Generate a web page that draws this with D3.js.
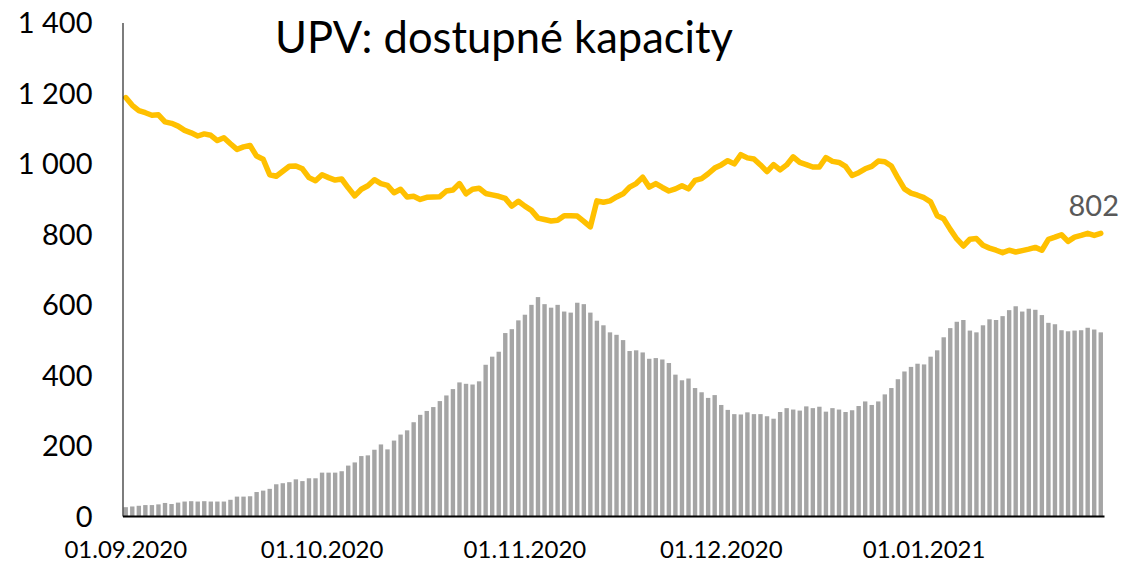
<!DOCTYPE html>
<html>
<head>
<meta charset="utf-8">
<script src="https://cdn.jsdelivr.net/npm/d3@7"></script>
<style>
  html, body { margin: 0; padding: 0; background: #ffffff; }
  svg { display: block; }
</style>
</head>
<body>
<svg id="chart" width="1123" height="562"></svg>
<script>
// ---- data ----
const dayCount = 150;
const categories = d3.timeDay.range(new Date(2020, 8, 1), new Date(2020, 8, 1 + dayCount));

const barValues = [
  25,27,29,31,31,33,37,34,38,41,42,41,42,41,41,41,46,55,55,56,68,72,77,90,93,96,104,99,107,107,123,123,123,127,143,152,170,172,188,203,189,214,231,243,
  266,287,298,309,326,342,360,379,375,373,382,429,452,466,519,530,555,571,599,621,601,591,599,580,577,605,601,577,554,541,521,514,499,468,470,464,446,448,444,434,401,385,390,363,351,
  335,343,315,301,289,288,294,289,289,283,276,295,306,302,299,311,306,310,296,306,302,295,300,312,325,315,325,345,363,388,410,423,432,430,452,470,507,533,551,556,526,521,541,558,556,567,584,595,580,588,585,570,548,544,527,524,526,527,534,529,521
];

const lineValues = [
  1187,1165,1150,1144,1137,1138,1118,1114,1106,1094,1087,1078,1084,1080,1065,1073,1056,1040,1047,1051,1021,1012,968,964,978,992,993,985,960,951,968,960,953,956,931,908,927,937,954,943,938,917,927,905,
  907,898,904,905,906,922,925,943,914,927,930,915,911,907,901,879,893,879,867,845,841,837,839,852,852,851,836,820,894,890,894,905,914,933,943,961,933,943,932,922,928,937,928,952,
  957,971,987,996,1008,999,1025,1016,1013,996,977,997,982,996,1019,1003,997,990,990,1017,1006,1003,992,966,974,985,992,1007,1005,993,959,
  928,916,910,903,891,852,843,813,786,766,785,787,768,760,754,747,754,749,753,757,762,754,785,791,798,779,791,796,802,796,802
];

const xTickLabels = ["01.09.2020", "01.10.2020", "01.11.2020", "01.12.2020", "01.01.2021"];
const yTicks = [0, 200, 400, 600, 800, 1000, 1200, 1400];
const titleText = "UPV: dostupné kapacity";
const lastLabel = "802";

// ---- layout ----
const svg = d3.select("#chart");
const plotLeft = 122.5, plotRight = 1104, plotTop = 22.5, plotBottom = 516;
const fontFamily = "Lato, 'Open Sans', sans-serif";

const x = d3.scaleBand()
  .domain(d3.range(dayCount))
  .range([plotLeft, plotRight])
  .paddingInner(0.33)
  .paddingOuter(0.16);

const y = d3.scaleLinear().domain([0, 1400]).range([plotBottom, plotTop]);

const fmtDay = d3.timeFormat("%d.%m.%Y");
const locale = d3.formatLocale({ decimal: ",", thousands: "\u00a0", grouping: [3], currency: ["", " Kč"] });
const fmtY = locale.format(",d");

// bars
svg.append("g")
  .selectAll("rect")
  .data(barValues)
  .join("rect")
  .attr("x", (d, i) => x(i))
  .attr("y", d => y(d))
  .attr("width", x.bandwidth())
  .attr("height", d => y(0) - y(d))
  .attr("fill", "#A5A5A5");

// line
const line = d3.line()
  .x((d, i) => x(i) + x.bandwidth() / 2)
  .y(d => y(d));

svg.append("path")
  .datum(lineValues)
  .attr("d", line)
  .attr("fill", "none")
  .attr("stroke", "#FFC000")
  .attr("stroke-width", 5.5)
  .attr("stroke-linejoin", "round")
  .attr("stroke-linecap", "round");

// y axis
const yAxis = d3.axisLeft(y).tickValues(yTicks).tickSize(0).tickPadding(30).tickFormat(fmtY);
const gy = svg.append("g").attr("transform", `translate(${plotLeft},0)`).call(yAxis);
gy.select(".domain").attr("stroke", "#262626").attr("stroke-width", 1.2);
gy.selectAll("text")
  .attr("font-family", fontFamily)
  .attr("font-size", 29)
  .attr("fill", "#000")
  .attr("dy", "0.36em");

// x axis
const tickIdx = xTickLabels.map(s => {
  const [dd, mm, yy] = s.split(".").map(Number);
  return Math.round((new Date(yy, mm - 1, dd) - categories[0]) / 864e5);
});
const xAxis = d3.axisBottom(x).tickValues(tickIdx).tickSize(0).tickPadding(0)
  .tickFormat(i => fmtDay(categories[i]));
const gx = svg.append("g").attr("transform", `translate(0,${plotBottom})`).call(xAxis);
gx.select(".domain").attr("stroke", "#000").attr("stroke-width", 2);
gx.selectAll("text")
  .attr("font-family", fontFamily)
  .attr("font-size", 24)
  .attr("fill", "#000")
  .attr("y", 42)
  .attr("dy", 0);

// title
svg.append("text")
  .attr("x", 275)
  .attr("y", 53)
  .attr("font-family", fontFamily)
  .attr("font-size", 43.5)
  .attr("fill", "#000")
  .text(titleText);

// last value label
const lastI = lineValues.length - 1;
svg.append("text")
  .attr("x", x(lastI) + x.bandwidth() / 2 - 7)
  .attr("y", 216)
  .attr("text-anchor", "middle")
  .attr("font-family", fontFamily)
  .attr("font-size", 29)
  .attr("fill", "#595959")
  .text(lastLabel);
</script>
</body>
</html>
